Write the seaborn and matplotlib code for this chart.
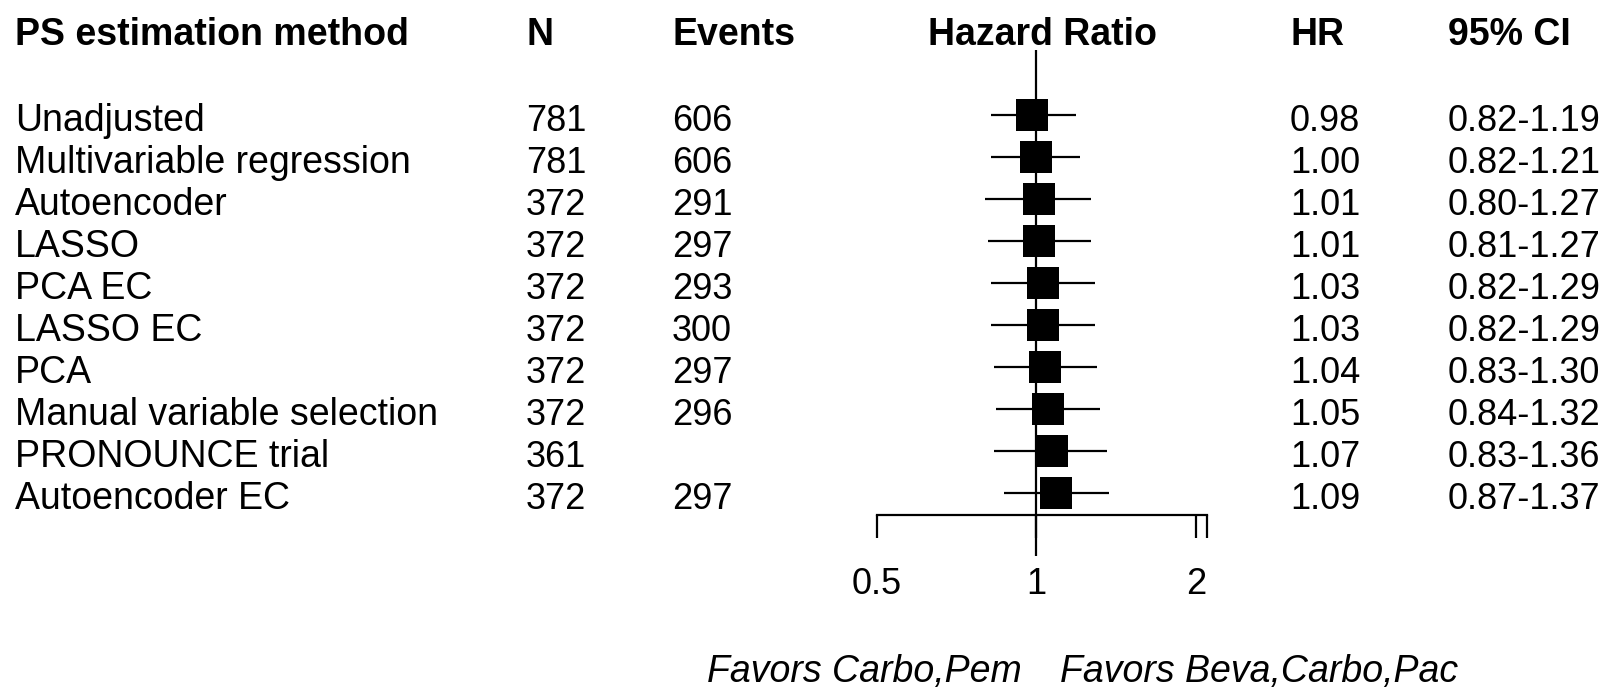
import numpy as np
import pandas as pd
import seaborn as sns
from matplotlib import pyplot as plt
from matplotlib.ticker import NullLocator
import matplotlib.transforms as mtransforms

# forest plot data
methods = ['Unadjusted', 'Multivariable regression', 'Autoencoder', 'LASSO',
           'PCA EC', 'LASSO EC', 'PCA', 'Manual variable selection',
           'PRONOUNCE trial', 'Autoencoder EC']
n_pat = [781, 781, 372, 372, 372, 372, 372, 372, 361, 372]
events = ['606', '606', '291', '297', '293', '300', '297', '296', '', '297']
hr = [0.98, 1.00, 1.01, 1.01, 1.03, 1.03, 1.04, 1.05, 1.07, 1.09]
ci_low = [0.82, 0.82, 0.80, 0.81, 0.82, 0.82, 0.83, 0.84, 0.83, 0.87]
ci_high = [1.19, 1.21, 1.27, 1.27, 1.29, 1.29, 1.30, 1.32, 1.36, 1.37]
tick_vals = [0.5, 1, 2]
tick_labels = ['0.5', '1', '2']
x_max = 2.1

df = pd.DataFrame({'method': methods, 'hr': hr, 'lo': ci_low, 'hi': ci_high})
df['row'] = np.arange(len(df))

sns.set_style("white")
plt.rcParams['font.family'] = ['Liberation Sans', 'DejaVu Sans']
plt.rcParams['text.color'] = 'black'
fs = 27      # words
fs_num = 26  # numbers

W, H = 1610, 689
fig = plt.figure(figsize=(W / 100, H / 100), dpi=100)
x0, x1 = 877, 1207
ax = fig.add_axes([x0 / W, 0, (x1 - x0) / W, 1])
ax.set_xscale('log')
ax.set_xlim(0.5, x_max)
# row r sits at pixel 115 + 42 r
row0, step = 115, 42.0
ax.set_ylim((H - row0) / step, -row0 / step)
ax.patch.set_alpha(0)

ax.vlines(1, -1.55, 10.5, color='black', lw=1.6, zorder=1)
ax.hlines(df['row'], df['lo'], df['hi'], color='black', lw=1.6, zorder=2)
sns.scatterplot(data=df, x='hr', y='row', marker='s', s=540, color='black',
                linewidth=0, ax=ax, zorder=3, legend=False, clip_on=False)

for side in ['top', 'left', 'right']:
    ax.spines[side].set_visible(False)
ax.spines['bottom'].set_position(('data', 9.52))
ax.spines['bottom'].set_bounds(0.5, x_max)
ax.spines['bottom'].set_linewidth(1.6)
ax.spines['bottom'].set_color('black')
ax.set_xticks(tick_vals + [x_max])
ax.set_xticklabels(tick_labels + [''])
ax.xaxis.set_minor_locator(NullLocator())
ax.tick_params(axis='x', bottom=True, direction='out', length=16.5, width=1.6,
               pad=21, labelsize=fs_num, colors='black')
ax.set_yticks([])
ax.set_xlabel('')
ax.set_ylabel('')

trans = mtransforms.blended_transform_factory(fig.transFigure, ax.transData)

def col(px):
    return px / W

# headers (baseline placed)
hdr_y = -1.67
headers = [(15, 'PS estimation method', 'left'), (526, 'N', 'left'),
           (672, 'Events', 'left'), (1042, 'Hazard Ratio', 'center'),
           (1290, 'HR', 'left'), (1448, '95% CI', 'left')]
for px, txt, ha in headers:
    ax.text(col(px), hdr_y, txt, transform=trans, fontsize=fs,
            fontweight='bold', va='baseline', ha=ha)

off = 0.38
for i in range(len(methods)):
    y = i + off
    ax.text(col(15), y, methods[i], transform=trans, fontsize=fs, va='baseline')
    ax.text(col(526), y, str(n_pat[i]), transform=trans, fontsize=fs_num, va='baseline')
    ax.text(col(672), y, events[i], transform=trans, fontsize=fs_num, va='baseline')
    ax.text(col(1290), y, '%.2f' % hr[i], transform=trans, fontsize=fs_num, va='baseline')
    ax.text(col(1448), y, '%.2f-%.2f' % (ci_low[i], ci_high[i]), transform=trans,
            fontsize=fs_num, va='baseline')

fav_y = 13.5
ax.text(col(1022), fav_y, 'Favors Carbo,Pem', transform=trans, fontsize=fs,
        style='italic', va='baseline', ha='right')
ax.text(col(1060), fav_y, 'Favors Beva,Carbo,Pac', transform=trans, fontsize=fs,
        style='italic', va='baseline', ha='left')

fig.savefig('out.png', dpi=100)
